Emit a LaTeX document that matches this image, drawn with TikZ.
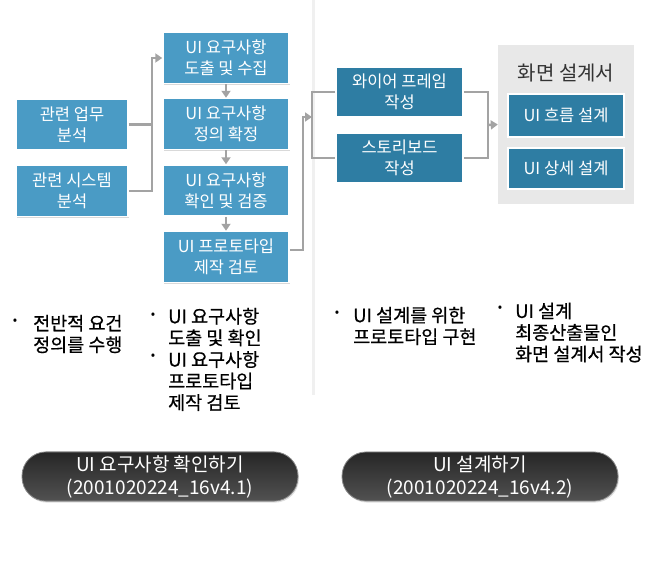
\documentclass[tikz,border=0pt]{standalone}
\usepackage{fontspec}
\setmainfont{Noto Sans CJK KR}
\newfontfamily\notefont[FakeBold=0.6]{Noto Sans CJK KR}
\usetikzlibrary{arrows.meta,shadows,positioning}

\definecolor{boxblue}{HTML}{4A9BC5}
\definecolor{boxdark}{HTML}{2E7DA3}
\definecolor{linegray}{HTML}{A3A3A3}
\definecolor{panelgray}{HTML}{E8E8E8}

\begin{document}
\begin{tikzpicture}[x=1pt,y=-1pt,
	stepnode/.style={draw=white,line width=1.5pt,fill=boxblue,text=white,align=center,inner sep=0pt,
		font=\fontsize{16.5}{21}\selectfont,minimum width=126pt,minimum height=51pt,
		drop shadow={opacity=0.3,shadow xshift=1.2pt,shadow yshift=-1.2pt}},
	darknode/.style={stepnode,fill=boxdark,minimum width=127pt,minimum height=50pt},
	pillnode/.style={rounded corners=24pt,minimum width=276pt,minimum height=49pt,text=white,align=center,
		font=\fontsize{19}{23}\selectfont,top color=black!85,bottom color=black!68,draw=black!45,line width=0.8pt,
		drop shadow={opacity=0.25,shadow xshift=1pt,shadow yshift=-1.5pt}},
	notenode/.style={align=left,inner sep=0pt,font=\notefont\fontsize{18.5}{21.5}\selectfont,anchor=west},
	conn/.style={draw=linegray,line width=2.5pt},
	tip/.style={-{Triangle[width=9pt,length=7pt]}}]
	\useasboundingbox (0,0) rectangle (663,560);
	\draw [gray!12,line width=3pt] (313,0) -- (313,395);
	% boxes
	\node[stepnode,minimum width=112pt] (work) at (72,124.5) {관련 업무\\분석};
	\node[stepnode,minimum width=112pt] (system) at (72,191) {관련 시스템\\분석};
	\node[stepnode] (derive) at (226,58) {UI 요구사항\\도출 및 수집};
	\node[stepnode] (confirm) at (226,124) {UI 요구사항\\정의 확정};
	\node[stepnode] (verify) at (226,190.5) {UI 요구사항\\확인 및 검증};
	\node[stepnode] (proto) at (226,257) {UI 프로토타입\\제작 검토};
	\node[darknode] (wire) at (399.5,92) {와이어 프레임\\작성};
	\node[darknode] (story) at (399.5,158) {스토리보드\\작성};
	\node[fill=panelgray,minimum width=136pt,minimum height=159pt,inner sep=0pt] (spec) at (566,124.5) {};
	\node[font=\fontsize{20}{22}\selectfont,text=black!80] (spectitle) at (566,73) {화면 설계서};
	\node[darknode,minimum width=116pt,minimum height=43pt] (flow) at (566,115.5) {UI 흐름 설계};
	\node[darknode,minimum width=116pt,minimum height=41pt] (detail) at (566,168.5) {UI 상세 설계};
	% connectors
	\coordinate (busA) at (152,58);
	\coordinate (busB) at (303,117);
	\coordinate (busC) at (312,125);
	\coordinate (busD) at (488,125);
	\draw [conn] (work.east) -- (work.east -| busA);
	\draw [conn,tip] (system.east) -| (busA) -- (derive.west);
	\foreach \a/\b in {derive/confirm,confirm/verify,verify/proto}
	\draw [conn,tip] (\a) -- (\b);
	\draw [conn,tip] ([yshift=7pt]proto.east) -| (busB) -- (busB -| busC);
	\draw [conn] (wire.west) -| (busC) |- (story.west);
	\draw [conn] (wire.east) -| (busD) |- (story.east);
	\draw [conn,tip] (busD) -- (spec.west);
	% notes
	\foreach \x/\y [count=\i] in {15/322,153/316,153/357,337/314,500/309}
	\node[font=\fontsize{13}{13}\selectfont] (dot\i) at (\x,\y) {•};
	\node[notenode] (note1) at (33,334) {전반적 요건\\정의를 수행};
	\node[notenode] (note2) at (168,327) {UI 요구사항\\도출 및 확인};
	\node[notenode] (note3) at (168,381) {UI 요구사항\\프로토타입\\제작 검토};
	\node[notenode] (note4) at (353,326) {UI 설계를 위한\\프로토타입 구현};
	\node[notenode] (note5) at (515,332.5) {UI 설계\\최종산출물인\\화면 설계서 작성};
	\node[pillnode] (check) at (160,476.5) {UI 요구사항 확인하기\\(2001020224\_16v4.1)};
	\node[pillnode] (design) at (480,476.5) {UI 설계하기\\(2001020224\_16v4.2)};
\end{tikzpicture}
\end{document}
